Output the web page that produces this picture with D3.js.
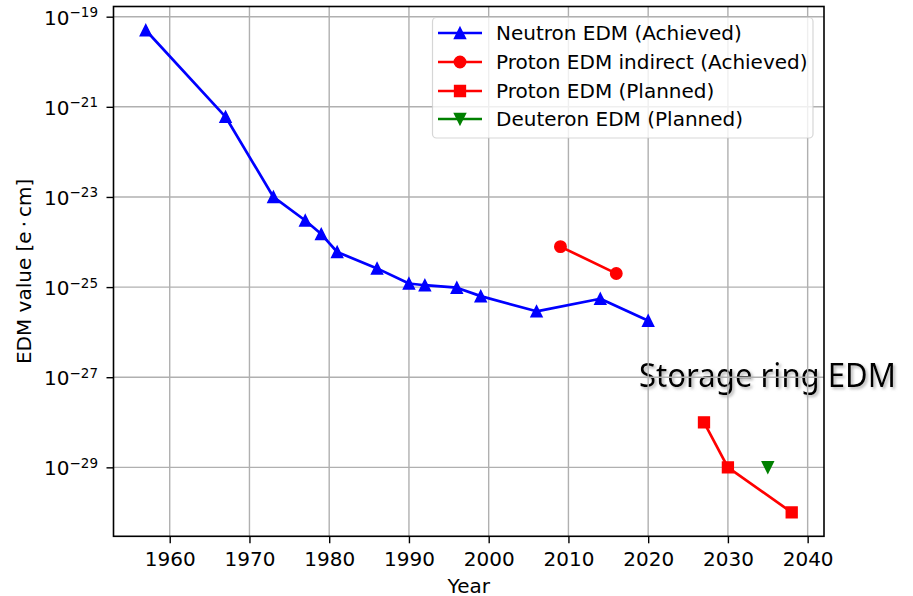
<!DOCTYPE html>
<html>
<head>
<meta charset="utf-8">
<script src="https://cdn.jsdelivr.net/npm/d3@7"></script>
<style>
    body { margin: 0; background: #fff; }
    text { font-family: "DejaVu Sans", sans-serif; fill: #000; }
</style>
</head>
<body>
<div id="chart"></div>
<script>
// data
var neutronYears = [1957, 1967, 1973, 1977, 1979, 1981, 1986, 1990, 1992, 1996, 1999, 2006, 2014, 2020];
var neutronValues = [5e-20, 6e-22, 1e-23, 3e-24, 1.5e-24, 6e-25, 2.6e-25, 1.2e-25, 1.1e-25, 9.7e-26, 6.3e-26, 2.9e-26, 5.5e-26, 1.8e-26];

var protonIndirectYears = [2009, 2016];
var protonIndirectValues = [7.9e-25, 2.0e-25];

var protonPlannedYears = [2027, 2030, 2038];
var protonPlannedValues = [1e-28, 1e-29, 1e-30];

var deuteronYears = [2035];
var deuteronValues = [1e-29];

var xTicks = [1960, 1970, 1980, 1990, 2000, 2010, 2020, 2030, 2040];
var yTickExponents = [-29, -27, -25, -23, -21, -19];

var legendLabels = ["Neutron EDM (Achieved)", "Proton EDM indirect (Achieved)", "Proton EDM (Planned)", "Deuteron EDM (Planned)"];

window.onload = function () {

    var W = 913, H = 596;
    var left = 113.5, right = 824, top = 6.5, bottom = 536.3;
    var fs = "20px";

    var svg = d3.select("#chart").append("svg")
        .attr("width", W)
        .attr("height", H);

    // scales (matplotlib 5% margins)
    var x = d3.scaleLinear().domain([1952.95, 2042.05]).range([left, right]);
    var y = d3.scaleLog().domain([Math.pow(10, -30.53), Math.pow(10, -18.774)]).range([bottom, top]);

    // shadow for the annotation
    var defs = svg.append("defs");
    var f = defs.append("filter").attr("id", "shadow")
        .attr("x", "-10%").attr("y", "-30%").attr("width", "130%").attr("height", "170%");
    f.append("feDropShadow")
        .attr("dx", 2).attr("dy", 2)
        .attr("stdDeviation", 1.5)
        .attr("flood-color", "#777")
        .attr("flood-opacity", 0.55);

    // annotation (sits under grid lines)
    svg.append("text")
        .attr("x", 639)
        .attr("y", 387)
        .attr("textLength", 257)
        .attr("lengthAdjust", "spacingAndGlyphs")
        .style("font-family", "'Noto Sans', sans-serif")
        .style("font-size", "32px")
        .attr("filter", "url(#shadow)")
        .text("Storage ring EDM");

    var yTickValues = yTickExponents.map(function (e) { return Math.pow(10, e); });

    // grid
    svg.append("g").attr("class", "grid")
        .selectAll("line.gx").data(xTicks).enter().append("line")
        .attr("x1", function (d) { return x(d); })
        .attr("x2", function (d) { return x(d); })
        .attr("y1", top).attr("y2", bottom)
        .attr("stroke", "#b0b0b0").attr("stroke-width", 1.4);

    svg.append("g").attr("class", "grid")
        .selectAll("line.gy").data(yTickValues).enter().append("line")
        .attr("y1", function (d) { return y(d); })
        .attr("y2", function (d) { return y(d); })
        .attr("x1", left).attr("x2", right)
        .attr("stroke", "#b0b0b0").attr("stroke-width", 1.4);

    // axes
    var xAxis = svg.append("g")
        .attr("transform", "translate(0," + bottom + ")")
        .call(d3.axisBottom(x).tickValues(xTicks).tickSize(7).tickFormat(d3.format("d")));
    xAxis.select(".domain").remove();
    xAxis.selectAll(".tick line").attr("stroke", "#000").attr("stroke-width", 1.4);
    xAxis.selectAll(".tick text")
        .attr("dy", null)
        .attr("y", 29.5)
        .style("font-size", fs)
        .style("font-family", "'DejaVu Sans', sans-serif");

    var yAxis = svg.append("g")
        .attr("transform", "translate(" + left + ",0)")
        .call(d3.axisLeft(y).tickValues(yTickValues).tickSize(7).tickFormat(""));
    yAxis.select(".domain").remove();
    yAxis.selectAll(".tick line").attr("stroke", "#000").attr("stroke-width", 1.4);
    yAxis.selectAll(".tick text").remove();

    // 10^n labels
    yAxis.selectAll(".tick").each(function (d, i) {
        var t = d3.select(this).append("text")
            .attr("x", -15.5)
            .attr("y", 7.5)
            .attr("text-anchor", "end")
            .style("font-size", fs);
        t.append("tspan").text("10");
        t.append("tspan")
            .attr("dy", -7.5)
            .style("font-size", "13.5px")
            .text("\u2212" + Math.abs(yTickExponents[i]));
    });

    // spines
    svg.append("rect")
        .attr("x", left).attr("y", top)
        .attr("width", right - left).attr("height", bottom - top)
        .attr("fill", "none")
        .attr("stroke", "#000")
        .attr("stroke-width", 1.6);

    // axis labels
    svg.append("text")
        .attr("x", (left + right) / 2)
        .attr("y", 592.5)
        .attr("text-anchor", "middle")
        .style("font-size", fs)
        .text("Year");

    svg.append("text")
        .attr("transform", "translate(31," + (top + bottom) / 2 + ") rotate(-90)")
        .attr("text-anchor", "middle")
        .style("font-size", fs)
        .text("EDM value [e\u2009\u22c5\u2009cm]");

    // markers
    function triUp(s) {
        return "M0," + (-s) + "L" + s + "," + s + "L" + (-s) + "," + s + "Z";
    }
    function triDown(s) {
        return "M0," + s + "L" + s + "," + (-s) + "L" + (-s) + "," + (-s) + "Z";
    }
    function square(s) {
        return "M" + (-s) + "," + (-s) + "H" + s + "V" + s + "H" + (-s) + "Z";
    }
    function circle(s) {
        return "M" + s + ",0A" + s + "," + s + " 0 1,1 " + (-s) + ",0A" + s + "," + s + " 0 1,1 " + s + ",0Z";
    }

    var series = [
        { years: neutronYears, values: neutronValues, color: "#0000ff", marker: triUp(5.5) },
        { years: protonIndirectYears, values: protonIndirectValues, color: "#ff0000", marker: circle(5.7) },
        { years: protonPlannedYears, values: protonPlannedValues, color: "#ff0000", marker: square(5.4) },
        { years: deuteronYears, values: deuteronValues, color: "#008000", marker: triDown(5.5) }
    ];

    var line = d3.line()
        .x(function (d) { return x(d[0]); })
        .y(function (d) { return y(d[1]); });

    series.forEach(function (s) {
        var pts = s.years.map(function (yr, i) { return [yr, s.values[i]]; });
        var g = svg.append("g");
        if (pts.length > 1) {
            g.append("path")
                .attr("d", line(pts))
                .attr("fill", "none")
                .attr("stroke", s.color)
                .attr("stroke-width", 2.7)
                .attr("stroke-linejoin", "round")
                .attr("stroke-linecap", "square");
        }
        g.selectAll("path.m").data(pts).enter().append("path")
            .attr("class", "m")
            .attr("d", s.marker)
            .attr("transform", function (d) { return "translate(" + x(d[0]) + "," + y(d[1]) + ")"; })
            .attr("fill", s.color)
            .attr("stroke", s.color)
            .attr("stroke-width", 1.5)
            .attr("stroke-linejoin", "miter");
    });

    // legend
    var lg = svg.append("g");
    lg.append("rect")
        .attr("x", 432.5).attr("y", 17.5)
        .attr("width", 380.5).attr("height", 120.5)
        .attr("rx", 4).attr("ry", 4)
        .attr("fill", "#fff").attr("fill-opacity", 0.8)
        .attr("stroke", "#cccccc").attr("stroke-opacity", 0.8)
        .attr("stroke-width", 1.2);

    var rowY = [33, 62, 91, 119];
    series.forEach(function (s, i) {
        lg.append("line")
            .attr("x1", 438).attr("x2", 482)
            .attr("y1", rowY[i]).attr("y2", rowY[i])
            .attr("stroke", s.color).attr("stroke-width", 2.7);
        lg.append("path")
            .attr("d", s.marker)
            .attr("transform", "translate(460," + rowY[i] + ")")
            .attr("fill", s.color)
            .attr("stroke", s.color)
            .attr("stroke-width", 1.5);
        lg.append("text")
            .attr("x", 496)
            .attr("y", rowY[i] + 7)
            .style("font-size", fs)
            .text(legendLabels[i]);
    });
};
</script>
</body>
</html>
